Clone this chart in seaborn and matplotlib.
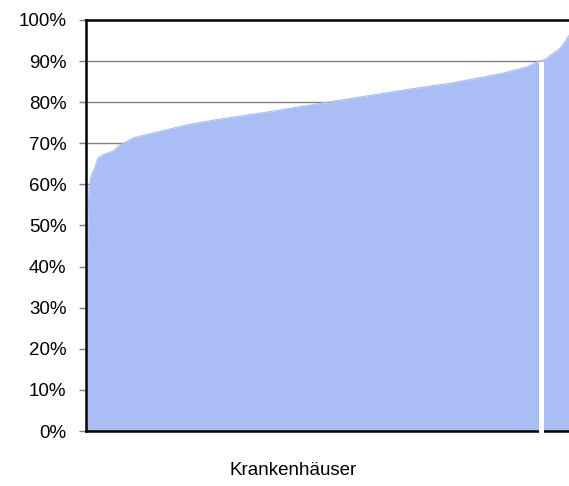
import matplotlib
matplotlib.use("Agg")
import matplotlib.pyplot as plt
import seaborn as sns
import pandas as pd
from matplotlib.patches import Rectangle

# Hospitals sorted by share (rank -> share in %)
hospital_rank = [0, 1, 2, 3, 5, 9, 12, 17, 27, 34, 44, 47, 64, 101, 134, 184,
                 244, 314, 324, 364, 414, 441, 452, 459, 467, 474, 479, 484]
share_pct = [17, 35, 52, 59.4, 61.9, 64.3, 66.4, 67.2, 68.1, 69.6, 70.8, 71.3,
             72.3, 74.5, 75.9, 77.7, 80.1, 82.8, 83.2, 84.6, 86.9, 88.6, 89.9,
             90.4, 91.9, 93.1, 94.7, 96.6]
gap_ranks = (453, 458)
y_ticks = [0, 10, 20, 30, 40, 50, 60, 70, 80, 90, 100]
y_tick_labels = [f"{t}%" for t in y_ticks]
x_label = "Krankenhäuser"

df = pd.DataFrame({"rank": hospital_rank, "share": share_pct})

sns.set_style("white")
plt.rcParams["font.family"] = ["Liberation Sans", "DejaVu Sans"]
plt.rcParams["text.color"] = "black"
plt.rcParams["ytick.color"] = "black"

W, H = 569, 486
fig = plt.figure(figsize=(W / 100, H / 100), dpi=100)
ax = fig.add_axes([86 / W, 55 / H, 484 / W, 411 / H])

area_color = "#AABEF5"
ax.fill_between(df["rank"], 0, df["share"], color=area_color, linewidth=0, zorder=2)
sns.lineplot(data=df, x="rank", y="share", ax=ax, color=area_color, linewidth=0.8, zorder=2)

# gridlines
for t in y_ticks[1:-1]:
    ax.axhline(t, color="#808080", linewidth=1, zorder=1)

ax.set_xlim(0, 484)
ax.set_ylim(0, 100)
ax.set_yticks(y_ticks)
ax.set_yticklabels(y_tick_labels, fontsize=13.5, color="black")
ax.set_xticks([])
ax.set_xlabel("")
ax.set_ylabel("")
ax.tick_params(axis="y", direction="out", length=5, width=1, color="#808080",
               pad=9, left=True)

for side in ["left", "top", "bottom"]:
    ax.spines[side].set_color("black")
    ax.spines[side].set_linewidth(1.8)
ax.spines["right"].set_visible(False)

# white break bar
ax.add_patch(Rectangle((gap_ranks[0], -1.0), gap_ranks[1] - gap_ranks[0], 90.9,
                       facecolor="white", edgecolor="none", zorder=5, clip_on=False))

fig.text(293.5 / W, 1 - 470 / H, x_label, ha="center", va="center",
         fontsize=13.5, color="black")

fig.savefig("out.png", dpi=100)
